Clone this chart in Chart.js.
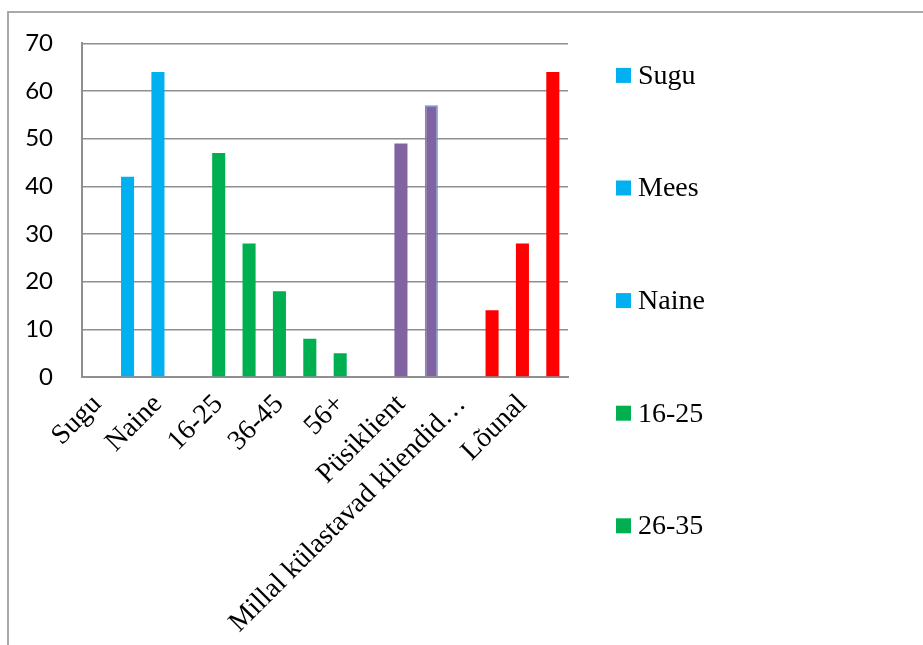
<!DOCTYPE html>
<html>
<head>
<meta charset="utf-8">
<script src="https://cdn.jsdelivr.net/npm/chart.js@4.4.1/dist/chart.umd.min.js"></script>
<style>
  html, body { margin: 0; padding: 0; background: #ffffff; overflow: hidden; width: 923px; height: 645px; }
  #frame { position: absolute; left: 7px; top: 11px; width: 1000px; height: 1000px;
           border-left: 2px solid #a9a9a9; border-top: 2px solid #a9a9a9; }
  #c { position: absolute; left: 0; top: 0; }
</style>
</head>
<body>
<div id="frame"></div>
<canvas id="c" width="923" height="645"></canvas>
<script>
// Survey answers: group headers, answer options and blank spacer rows
const categories = [
  'Sugu', 'Mees', 'Naine',
  '', '16-25', '26-35', '36-45', '46-55', '56+',
  '', 'Püsiklient', 'Uus klient',
  'Millal külastavad kliendid…', 'Hommikul', 'Lõunal', 'Õhtul'
];
const counts = [
  null, 42, 64,
  null, 47, 28, 18, 8, 5,
  null, 49, 57,
  null, 14, 28, 64
];
const groupColors = {
  sugu: '#00B0F0',
  vanus: '#00B050',
  klient: '#8064A2',
  aeg: '#FF0000'
};
const barColors = [
  groupColors.sugu, groupColors.sugu, groupColors.sugu,
  groupColors.vanus, groupColors.vanus, groupColors.vanus, groupColors.vanus, groupColors.vanus, groupColors.vanus,
  groupColors.klient, groupColors.klient, groupColors.klient,
  groupColors.aeg, groupColors.aeg, groupColors.aeg, groupColors.aeg
];
// one bar carries a thin blue outline
const barOutline = categories.map((c, i) => i === 11 ? '#6A8FC8' : 'rgba(0,0,0,0)');
const barOutlineWidth = categories.map((c, i) => i === 11 ? 1.5 : 0);
const yMin = 0, yMax = 70, yStep = 10;
// legend entries that fit in the side panel
const legendCount = 5;

const serif = "'Liberation Serif', 'Times New Roman', serif";
const sans = "Lato, 'Liberation Sans', sans-serif";
const gridGray = '#8f8f8f';

// side legend: one coloured square per named category, stacked down the right side
const sideLegend = {
  id: 'sideLegend',
  afterDraw(chart) {
    const { ctx, chartArea } = chart;
    const named = categories.map((c, i) => i).filter(i => categories[i] !== '').slice(0, legendCount);
    ctx.save();
    ctx.font = '28px ' + serif;
    ctx.textAlign = 'left';
    ctx.textBaseline = 'middle';
    const x0 = chartArea.right + 48;
    named.forEach((idx, k) => {
      const cy = chartArea.top + 32 + k * 112.6;
      ctx.fillStyle = barColors[idx];
      ctx.fillRect(x0, cy - 7.5, 15, 15);
      ctx.fillStyle = '#000000';
      ctx.fillText(categories[idx], x0 + 22, cy + 1);
    });
    ctx.restore();
  }
};

new Chart(document.getElementById('c'), {
  type: 'bar',
  data: {
    labels: categories,
    datasets: [{
      data: counts,
      backgroundColor: barColors,
      borderColor: barOutline,
      borderWidth: barOutlineWidth,
      barPercentage: 0.43,
      categoryPercentage: 1.0
    }]
  },
  options: {
    responsive: false,
    animation: false,
    devicePixelRatio: 1,
    layout: { padding: { left: 0, top: 43, right: 355, bottom: 0 } },
    plugins: {
      legend: { display: false },
      tooltip: { enabled: false }
    },
    scales: {
      x: {
        grid: { display: false },
        border: { display: true, color: gridGray, width: 2 },
        ticks: {
          autoSkip: false,
          minRotation: 45,
          maxRotation: 45,
          padding: 3,
          color: '#000000',
          font: { family: serif, size: 28 },
          callback: (v, i) => (i % 2 === 0 ? categories[i] : '')
        },
        afterFit: (s) => { s.height = 268; }
      },
      y: {
        min: yMin,
        max: yMax,
        ticks: {
          stepSize: yStep,
          padding: 29,
          color: '#000000',
          font: { family: sans, size: 24 }
        },
        grid: { color: gridGray, lineWidth: 1.5, drawTicks: false },
        border: { display: true, color: gridGray, width: 2 },
        afterFit: (s) => { s.width = 82; }
      }
    }
  },
  plugins: [sideLegend]
});
</script>
</body>
</html>
